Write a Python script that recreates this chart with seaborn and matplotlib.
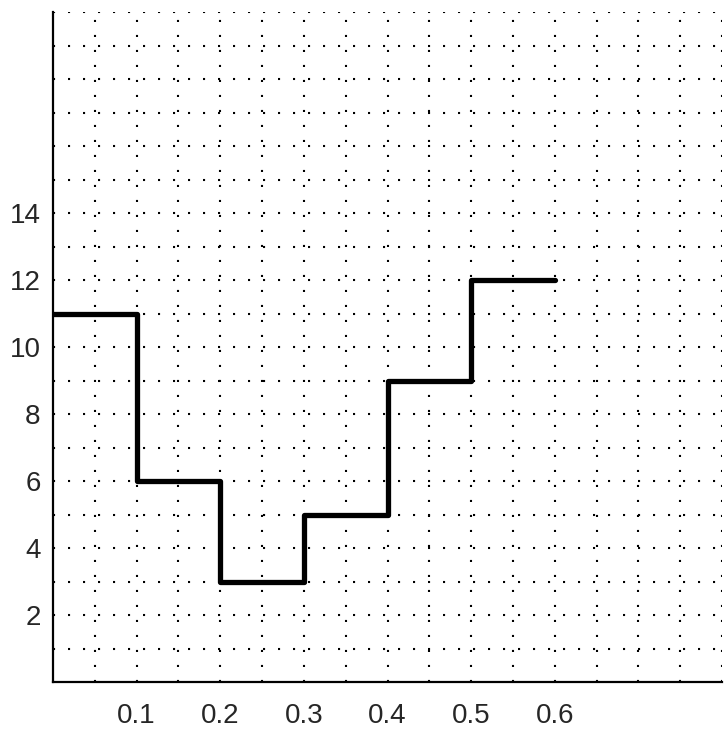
import matplotlib
matplotlib.use('Agg')
import matplotlib.pyplot as plt
import seaborn as sns
import numpy as np
import pandas as pd

# step values
x_vals = [0.0, 0.1, 0.2, 0.3, 0.4, 0.5, 0.6]
y_vals = [11, 6, 3, 5, 9, 12, 12]

x_ticks = [0.1, 0.2, 0.3, 0.4, 0.5, 0.6]
x_tick_labels = ['0.1', '0.2', '0.3', '0.4', '0.5', '0.6']
y_ticks = [2, 4, 6, 8, 10, 12, 14]
y_tick_labels = ['2', '4', '6', '8', '10', '12', '14']

sns.set_style('white')
plt.rcParams['font.family'] = ['Liberation Sans', 'DejaVu Sans']

fig = plt.figure(figsize=(7.28, 7.36), dpi=100)
ax = fig.add_axes([53 / 728, 1 - 682 / 736, 669 / 728, 670 / 736])

df = pd.DataFrame({'x': x_vals, 'y': y_vals})
sns.lineplot(data=df, x='x', y='y', ax=ax, estimator=None, color='black',
             linewidth=3.8, drawstyle='steps-post', zorder=3)

ax.set_xlim(0, 0.8)
ax.set_ylim(0, 20)

# dotted grid: every 0.05 in x, every 1 in y
grid_kw = dict(color='black', linewidth=1.5, linestyle=(0, (1, 6.2)), zorder=1)
for gx in np.arange(0.05, 0.8001, 0.05):
    ax.axvline(gx, **grid_kw)
for gy in np.arange(1, 20.001, 1):
    ax.axhline(gy, **grid_kw)

ax.set_xticks(x_ticks)
ax.set_xticklabels(x_tick_labels)
ax.set_yticks(y_ticks)
ax.set_yticklabels(y_tick_labels)
ax.tick_params(axis='x', length=0, pad=15, labelsize=20)
ax.tick_params(axis='y', length=0, pad=9, labelsize=20)
ax.set_xlabel('')
ax.set_ylabel('')

for side in ['top', 'right']:
    ax.spines[side].set_visible(False)
for side in ['left', 'bottom']:
    ax.spines[side].set_color('black')
    ax.spines[side].set_linewidth(1.6)

fig.savefig('out.png', dpi=100)
